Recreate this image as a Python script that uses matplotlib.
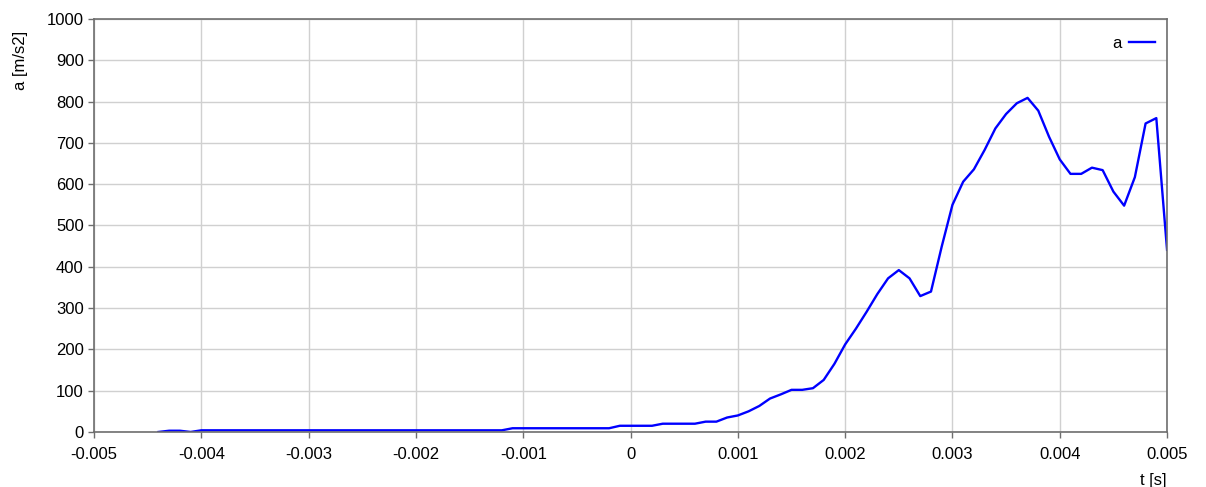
import numpy as np
import matplotlib
matplotlib.use("Agg")
import matplotlib.pyplot as plt

plt.rcParams['font.family'] = ['Liberation Sans', 'DejaVu Sans']

# sampled acceleration (flat stretches kept as their end points)
t = [-0.0044, -0.0043, -0.0042, -0.0041, -0.0040, -0.0012, -0.0011, -0.0002,
     -0.0001, 0.0002, 0.0003, 0.0006, 0.0007, 0.0008, 0.0009, 0.0010,
     0.0011, 0.0012, 0.0013, 0.0014, 0.0015, 0.0016, 0.0017, 0.0018,
     0.0019, 0.0020, 0.0021, 0.0022, 0.0023, 0.0024, 0.0025, 0.0026,
     0.0027, 0.0028, 0.0029, 0.0030, 0.0031, 0.0032, 0.0033, 0.0034,
     0.0035, 0.0036, 0.0037, 0.0038, 0.0039, 0.0040, 0.0041, 0.0042,
     0.0043, 0.0044, 0.0045, 0.0046, 0.0047, 0.0048, 0.0049, 0.0050]
a = [0, 3, 3, 0, 4, 4, 9, 9,
     15, 15, 20, 20, 25, 25, 35, 40,
     50, 63, 81, 91, 102, 102, 106, 126,
     165, 212, 250, 291, 334, 372, 392, 372,
     329, 340, 449, 550, 606, 636, 683, 735,
     770, 796, 809, 778, 715, 660, 625, 625,
     640, 634, 582, 548, 617, 747, 760, 441]

xticks = [-0.005, -0.004, -0.003, -0.002, -0.001, 0, 0.001, 0.002, 0.003, 0.004, 0.005]
xlabels = ["-0.005", "-0.004", "-0.003", "-0.002", "-0.001", "0",
           "0.001", "0.002", "0.003", "0.004", "0.005"]
yticks = [0, 100, 200, 300, 400, 500, 600, 700, 800, 900, 1000]

fig = plt.figure(figsize=(12.06, 4.87), dpi=100)
ax = fig.add_axes([0.078, 0.113, 0.8897, 0.848])

ax.plot(t, a, color="#0000ff", lw=1.7, label="a")

ax.set_xlim(-0.005, 0.005)
ax.set_ylim(0, 1000)
ax.set_xticks(xticks)
ax.set_xticklabels(xlabels)
ax.set_yticks(yticks)
ax.grid(True, color="#d0d0d0", lw=1.0)
ax.set_axisbelow(True)
for s in ax.spines.values():
    s.set_color("#6e6e6e")
    s.set_linewidth(1.2)
ax.tick_params(colors="#6e6e6e", labelcolor="black", labelsize=12, length=4, width=1)
ax.tick_params(axis="x", pad=7)

ax.set_ylabel("a [m/s2]", fontsize=12)
ax.yaxis.set_label_coords(-0.062, 0.9)
ax.set_xlabel("t [s]", fontsize=12)
ax.xaxis.set_label_coords(0.9995, -0.1)
ax.xaxis.label.set_horizontalalignment("right")

ax.legend(loc="upper right", bbox_to_anchor=(1.0, 0.988), frameon=False,
          markerfirst=False, fontsize=12, handlelength=1.6, handletextpad=0.4,
          borderaxespad=0.3)

fig.savefig("out.png", dpi=100)
